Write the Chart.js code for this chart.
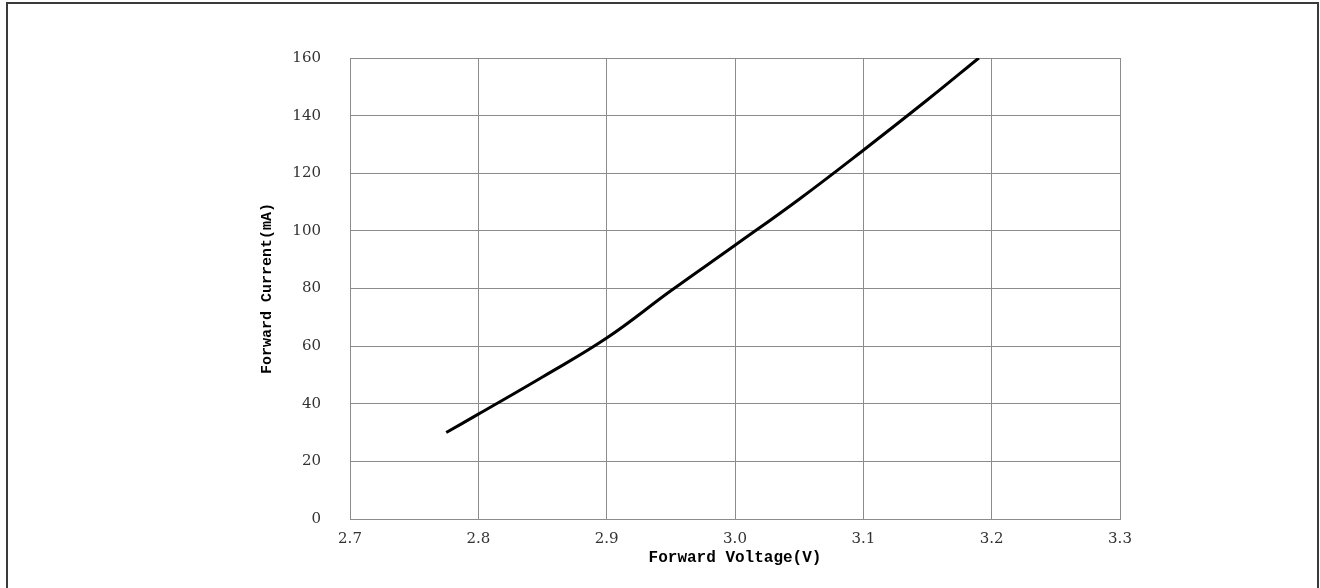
<!DOCTYPE html>
<html>
<head>
<meta charset="utf-8">
<script src="https://cdn.jsdelivr.net/npm/chart.js@4.4.1/dist/chart.umd.min.js"></script>
<style>
  html, body { margin: 0; padding: 0; background: #fff; width: 1320px; height: 588px; overflow: hidden; }
  #wrap { position: absolute; left: 0; top: 0; width: 1320px; height: 588px; }
  #frame { position: absolute; left: 6px; top: 2px; width: 1313px; height: 600px; border: 2px solid #3a3a3a; border-bottom: none; pointer-events: none; box-sizing: border-box; }
</style>
</head>
<body>
<div id="wrap"><canvas id="c" width="1320" height="588"></canvas></div>
<div id="frame"></div>
<script>
const forwardVoltage = [2.775, 2.80, 2.85, 2.90, 2.95, 3.00, 3.05, 3.10, 3.15, 3.19];
const forwardCurrent = [30, 36.4, 49.3, 62.8, 79.2, 95, 111, 128, 145.5, 160];
const xTicks = [2.7, 2.8, 2.9, 3.0, 3.1, 3.2, 3.3];
const yTicks = [0, 20, 40, 60, 80, 100, 120, 140, 160];
const xTitle = 'Forward Voltage(V)';
const yTitle = 'Forward Current(mA)';

const points = forwardVoltage.map((v, i) => ({ x: v, y: forwardCurrent[i] }));

new Chart(document.getElementById('c'), {
  type: 'scatter',
  data: {
    datasets: [{
      data: points,
      showLine: true,
      borderColor: '#000',
      borderWidth: 3,
      pointRadius: 0,
      tension: 0.4,
      fill: false
    }]
  },
  options: {
    responsive: false,
    animation: false,
    devicePixelRatio: 1,
    layout: { padding: { left: 255, top: 58, right: 200, bottom: 0 } },
    plugins: { legend: { display: false }, tooltip: { enabled: false } },
    scales: {
      x: {
        type: 'linear',
        min: xTicks[0], max: xTicks[xTicks.length - 1],
        afterBuildTicks: (s) => { s.ticks = xTicks.map(v => ({ value: v })); },
        afterFit: (s) => { s.height = 69; },
        grid: { color: '#8c8c8c', lineWidth: 1, drawTicks: false },
        border: { color: '#8c8c8c', width: 1 },
        ticks: {
          padding: 11,
          color: '#333',
          font: { family: 'DejaVu Serif', size: 15 },
          callback: (v) => Number(v).toFixed(1),
          maxRotation: 0
        },
        title: {
          display: true, text: xTitle, color: '#000',
          font: { family: 'Liberation Mono', size: 16, weight: 'bold' },
          padding: { top: 0, bottom: 20 }
        }
      },
      y: {
        type: 'linear',
        min: yTicks[0], max: yTicks[yTicks.length - 1],
        afterBuildTicks: (s) => { s.ticks = yTicks.map(v => ({ value: v })); },
        afterFit: (s) => { s.width = 95; },
        grid: { color: '#8c8c8c', lineWidth: 1, drawTicks: false },
        border: { color: '#8c8c8c', width: 1 },
        ticks: {
          padding: 29,
          color: '#333',
          font: { family: 'DejaVu Serif', size: 15 }
        },
        title: {
          display: true, text: yTitle, color: '#000',
          font: { family: 'Liberation Mono', size: 15, weight: 'bold' },
          padding: { top: 3, bottom: 0 }
        }
      }
    }
  }
});
</script>
</body>
</html>
